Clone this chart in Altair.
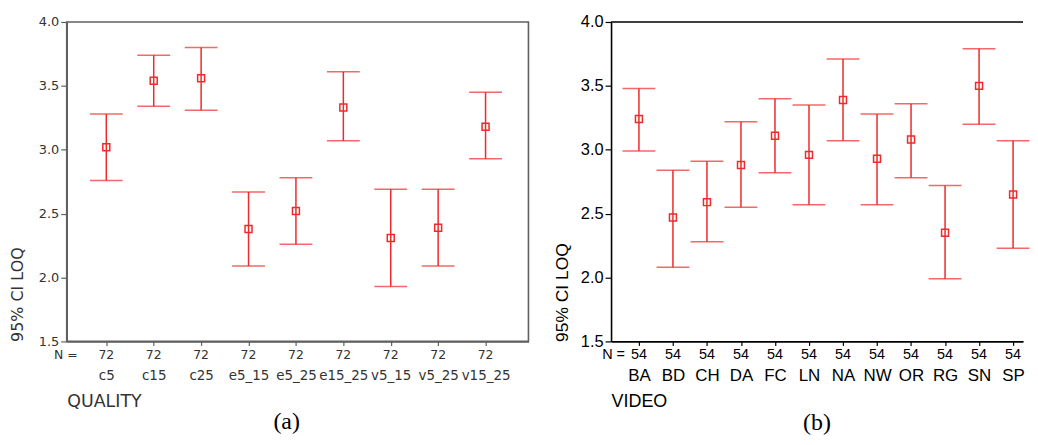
import altair as alt
import pandas as pd

# ---- data ----
quality_cats = ["c5", "c15", "c25", "e5_15", "e5_25", "e15_25", "v5_15", "v5_25", "v15_25"]
quality_mean = [3.02, 3.54, 3.56, 2.38, 2.52, 3.33, 2.31, 2.39, 3.18]
quality_low = [2.76, 3.34, 3.31, 2.09, 2.26, 3.07, 1.93, 2.09, 2.93]
quality_high = [3.28, 3.74, 3.80, 2.67, 2.78, 3.61, 2.69, 2.69, 3.45]
quality_n = [72, 72, 72, 72, 72, 72, 72, 72, 72]

video_cats = ["BA", "BD", "CH", "DA", "FC", "LN", "NA", "NW", "OR", "RG", "SN", "SP"]
video_mean = [3.24, 2.47, 2.59, 2.88, 3.11, 2.96, 3.39, 2.93, 3.08, 2.35, 3.50, 2.65]
video_low = [2.99, 2.08, 2.28, 2.55, 2.82, 2.57, 3.07, 2.57, 2.78, 1.99, 3.20, 2.23]
video_high = [3.48, 2.84, 2.91, 3.22, 3.40, 3.35, 3.71, 3.28, 3.36, 2.72, 3.79, 3.07]
video_n = [54, 54, 54, 54, 54, 54, 54, 54, 54, 54, 54, 54]

y_ticks = [1.5, 2.0, 2.5, 3.0, 3.5, 4.0]
y_title = "95% CI LOQ"
n_label = "N ="

RED = "#ee2a2a"
H = 321


def panel(cats, mean, low, high, n, xtitle, caption, width, pad, align,
          font, txt, axis_color, tick_lab_size, cat_size, cnt_size,
          ytitle_size, xtitle_size, n_x, cap_dx, cat_pad, frame):
    df = pd.DataFrame({"cat": cats, "mean": mean, "low": low, "high": high, "n": n})
    xscale = alt.Scale(type="point", padding=pad, align=align)
    xaxis = alt.Axis(
        title=xtitle, labelAngle=0, labelFont=font, labelFontSize=cat_size,
        labelColor=txt, labelBaseline="middle", labelPadding=cat_pad,
        tickSize=4, tickColor=axis_color, tickWidth=1.2,
        domainColor=axis_color, domainWidth=1.6, grid=False,
        titleX=0, titleY=60, titleAlign="left", titleBaseline="middle",
        titleFont=font, titleFontSize=xtitle_size, titleFontWeight="normal",
        titleColor=txt,
    )
    yscale = alt.Scale(domain=[1.5, 4.0], nice=False, zero=False)
    yaxis = alt.Axis(
        title=y_title, values=y_ticks, format=".1f", grid=False,
        tickSize=6, tickColor=axis_color, tickWidth=1.2, labelPadding=2,
        labelFont=font, labelFontSize=tick_lab_size, labelColor=txt,
        domainColor=axis_color, domainWidth=1.6,
        titleX=-49, titleY=H, titleAngle=270, titleAlign="left",
        titleBaseline="middle", titleFont=font, titleFontSize=ytitle_size,
        titleFontWeight="normal", titleColor=txt,
    )

    def X():
        return alt.X("cat:N", sort=cats, scale=xscale, axis=xaxis)

    def Y(f):
        return alt.Y(f + ":Q", scale=yscale, axis=yaxis)

    base = alt.Chart(df)
    rule = base.mark_rule(color=RED, strokeWidth=1.5).encode(x=X(), y=Y("low"), y2="high:Q")
    cap_lo = base.mark_tick(color=RED, orient="horizontal", size=33, thickness=1.5).encode(x=X(), y=Y("low"))
    cap_hi = base.mark_tick(color=RED, orient="horizontal", size=33, thickness=1.5).encode(x=X(), y=Y("high"))
    pt = base.mark_point(shape="square", size=49, filled=False, color=RED, strokeWidth=1.5, opacity=1).encode(
        x=X(), y=Y("mean"))
    counts = base.mark_text(font=font, fontSize=cnt_size, color=txt, baseline="middle").encode(
        x=X(), y=alt.value(H + 14), text="n:Q")
    nlab = alt.Chart(pd.DataFrame({"t": [n_label]})).mark_text(
        font=font, fontSize=cnt_size, color=txt, baseline="middle", align="right").encode(
        x=alt.value(n_x), y=alt.value(H + 14), text="t:N")
    layers = [rule, cap_lo, cap_hi, pt, counts, nlab]
    if not frame:
        top = alt.Chart(pd.DataFrame({"v": [4.0]})).mark_rule(color=axis_color, strokeWidth=1.6).encode(
            y=alt.Y("v:Q", scale=yscale, axis=yaxis), x=alt.value(0), x2=alt.value(width))
        layers.append(top)
    ch = alt.layer(*layers).properties(
        width=width, height=H,
        title=alt.TitleParams(text=caption, orient="bottom", anchor="middle",
                              font="Liberation Serif", fontSize=24, fontWeight="normal",
                              color="black", offset=1, dx=cap_dx),
    )
    if frame:
        ch = ch.properties(view=alt.ViewBackground(stroke=axis_color, strokeWidth=1.6))
    else:
        ch = ch.properties(view=alt.ViewBackground(stroke=None))
    return ch


left = panel(quality_cats, quality_mean, quality_low, quality_high, quality_n,
             "QUALITY", "(a)", 464, 0.87, 0.48,
             "DejaVu Sans", "#333333", "#606060", 13, 13.5, 12.5, 16, 17.5, 11, -11, 30, True)
right = panel(video_cats, video_mean, video_low, video_high, video_n,
              "VIDEO", "(b)", 414, 0.556, 0.737,
              "Liberation Sans", "#000000", "#000000", 16.5, 17, 14.5, 17.5, 18, 14, 0, 30, False)

chart = alt.hconcat(left, right, spacing=83, bounds="flush").properties(
    padding={"left": 1, "top": 5, "right": 0, "bottom": 0}
).configure_view(stroke=None)

chart.save("out.html", embed_options={"renderer": "svg", "actions": False})
